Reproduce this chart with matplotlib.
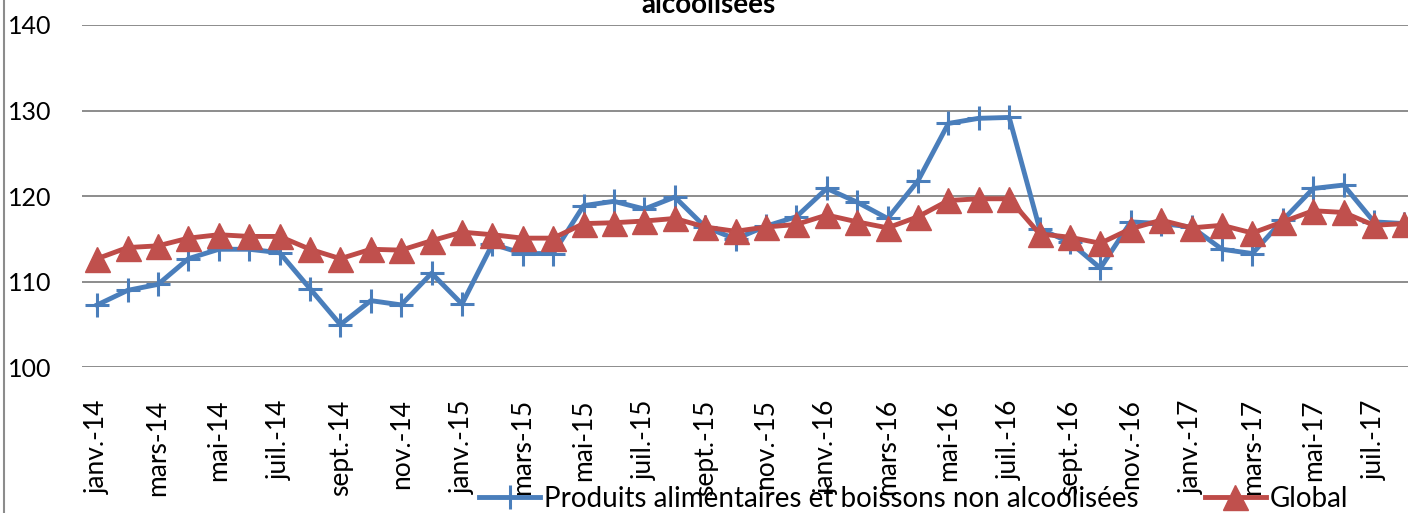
import matplotlib
matplotlib.use("Agg")
import matplotlib.pyplot as plt
from matplotlib.lines import Line2D

plt.rcParams['font.family'] = ['Lato', 'DejaVu Sans']

# ---- data ----
months = ["janv.", "févr.", "mars", "avr.", "mai", "juin",
          "juil.", "août", "sept.", "oct.", "nov.", "déc."]
years = ["14", "15", "16", "17"]
categories = [f"{m}-{y}" for y in years for m in months][:44]

alim = [107.3, 109.0, 109.7, 112.7, 113.8, 113.8, 113.4, 109.2, 105.0, 107.8,
        107.3, 111.0, 107.4, 114.4, 113.3, 113.3, 118.9, 119.4, 118.5, 119.9,
        116.4, 115.0, 116.5, 117.6, 120.9, 119.3, 117.4, 121.8, 128.5, 129.1,
        129.2, 116.2, 114.6, 111.6, 117.0, 116.8, 116.4, 113.8, 113.3, 117.2,
        120.9, 121.3, 117.0, 116.8]
glob = [112.7, 114.0, 114.2, 115.1, 115.5, 115.3, 115.3, 113.8, 112.7, 113.8,
        113.7, 114.8, 115.8, 115.5, 115.1, 115.1, 116.8, 116.9, 117.1, 117.4,
        116.4, 115.9, 116.4, 116.7, 117.8, 117.0, 116.3, 117.6, 119.5, 119.7,
        119.7, 115.6, 115.2, 114.5, 116.2, 117.2, 116.3, 116.6, 115.7, 117.0,
        118.3, 118.1, 116.6, 116.8]
yticks = [100, 110, 120, 130, 140]
series_names = ["Produits alimentaires et boissons non alcoolisées", "Global"]
title_tail = "alcoolisées"

W, H = 1408, 513
fig = plt.figure(figsize=(W / 100, H / 100), dpi=100)
left_px, bottom_px, top_px = 82, 367.4, 25
ax = fig.add_axes([left_px / W, 1 - bottom_px / H, 1 - left_px / W, (bottom_px - top_px) / H])

x = list(range(len(categories)))
blue = '#4A7EBB'
red = '#BE4B48'
ax.plot(x, alim, color=blue, lw=3.5, marker='+', ms=17, mew=2.2, mec=blue,
        label=series_names[0], zorder=3)
ax.plot(x, glob, color=red, lw=3.5, marker='^', ms=18, mfc='#C0504D', mec='#C0504D',
        mew=1, label=series_names[1], zorder=4)

ax.set_ylim(100, 140)
ax.set_xlim(-0.5, -0.5 + (W - left_px) / 30.4)
ax.set_yticks(yticks)
ax.set_yticklabels([str(v) for v in yticks], fontsize=18)
ax.set_xticks(x[::2])
ax.set_xticklabels(categories[::2], rotation=90, fontsize=19, ha='center', va='top')
ax.tick_params(axis='both', length=0)
ax.tick_params(axis='y', pad=22)
ax.tick_params(axis='x', pad=23)
ax.grid(axis='y', color='#8c8c8c', lw=1.4)
ax.set_axisbelow(True)
for s in ax.spines.values():
    s.set_visible(False)

fig.text(709 / W, 1 - 13 / H, title_tail, ha='center', va='baseline',
         fontsize=20, fontweight='bold')

# left border of the chart frame
fig.add_artist(Line2D([4 / W, 4 / W], [0, 1], transform=fig.transFigure,
                      color='#8c8c8c', lw=1.5))

fig.legend(loc='center', bbox_to_anchor=((477 + 1350) / 2 / W, 1 - 499 / H),
           ncol=2, frameon=False, fontsize=20, handlelength=2.2,
           handletextpad=0.12, columnspacing=2.4, borderaxespad=0,
           borderpad=0)

fig.savefig('out.png', dpi=100)
